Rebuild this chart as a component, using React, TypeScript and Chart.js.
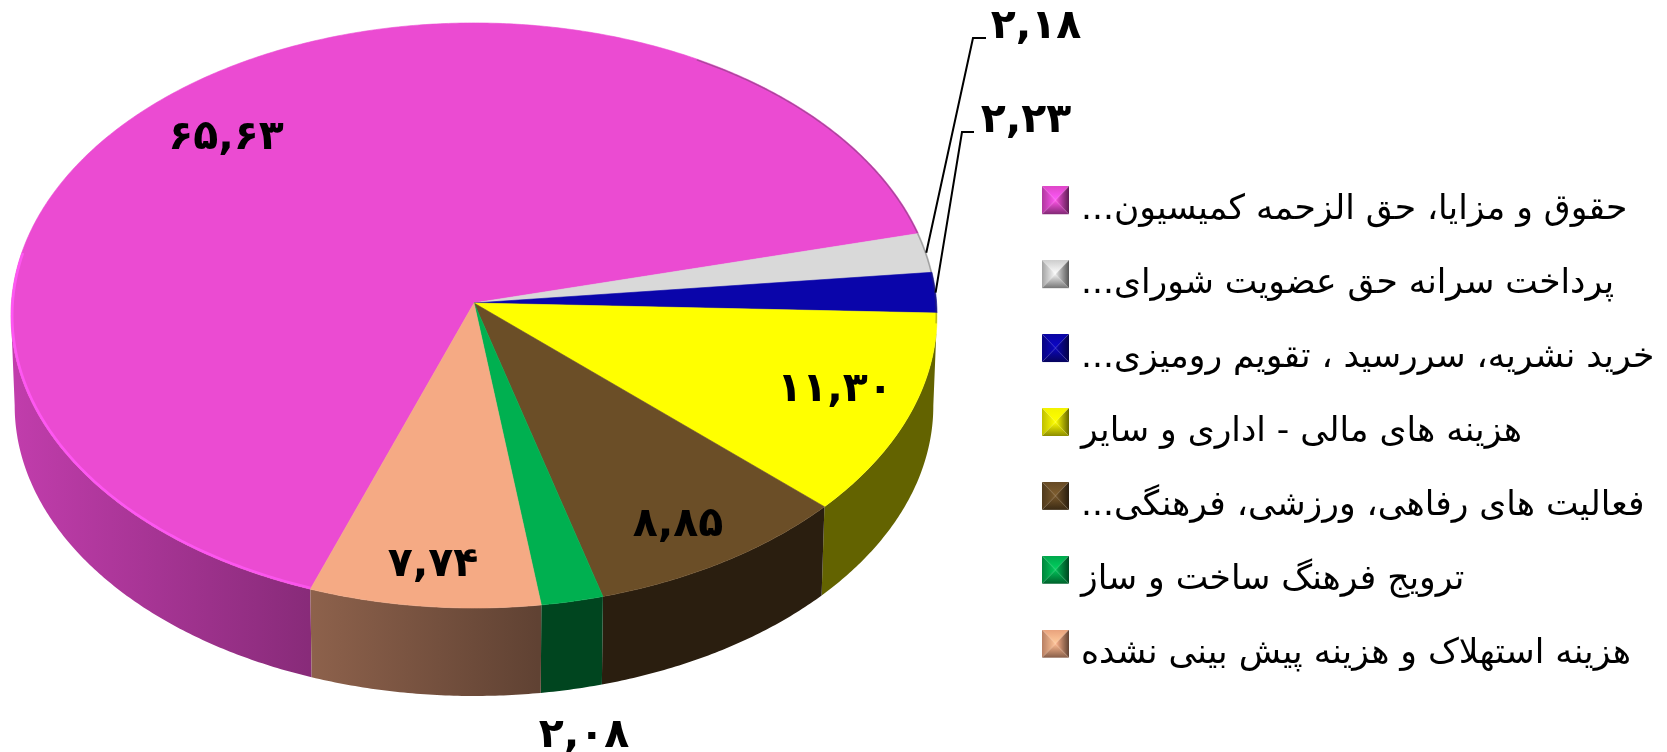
import React, { useEffect, useRef } from "react";
import { Chart, registerables } from "chart.js";

Chart.register(...registerables);

const categories = [
  "حقوق و مزایا، حق الزحمه کمیسیون...\u200F",
  "پرداخت سرانه حق عضویت شورای...\u200F",
  "خرید نشریه، سررسید ، تقویم رومیزی...\u200F",
  "هزینه های مالی - اداری و سایر",
  "فعالیت های رفاهی، ورزشی، فرهنگی...\u200F",
  "ترویج فرهنگ ساخت و ساز",
  "هزینه استهلاک و هزینه پیش بینی نشده",
];
const shares = [65.63, 2.18, 2.23, 11.3, 8.85, 2.08, 7.74];
const valueLabels = ["۶۵,۶۳", "۲,۱۸", "۲,۲۳", "۱۱,۳۰", "۸,۸۵", "۲,۰۸", "۷,۷۴"];
const sliceColors: number[][] = [
  [235, 75, 210],
  [217, 217, 217],
  [10, 5, 170],
  [255, 255, 0],
  [107, 78, 39],
  [0, 176, 80],
  [245, 170, 132],
];

// Layout of the value labels (centres) and leader-line elbows.
const labelCentres: number[][] = [
  [226, 138],
  [1036, 27],
  [1026, 121],
  [835, 390],
  [678, 525],
  [584, 736],
  [433, 565],
];
const leaderElbows: Record<number, number[][]> = {
  1: [[973, 38], [986, 38]],
  2: [[962, 132], [974, 132]],
};

const ROTATION = 199.85;
const STRETCH_X = 462.6 / 303;
const STRETCH_Y = 292 / 303;
const PERSPECTIVE = 0.0427;
const DROP = 90.4 / 303;
const BASE_SCALE = 0.992;
const LEGEND_X = 1047.25;
const LEGEND_Y = 193;
const LEGEND_FONT = 34.5;
const LEGEND_PAD = 39.4;
const LEGEND_BOX = 16.5;
const MARKER_RAISE = 10;
const DEG = Math.PI / 180;

const rgb = (c: number[], f = 1, a = 1) =>
  `rgba(${c.map((v) => Math.min(255, Math.round(v * f))).join(",")},${a})`;

function project(arc: any, t: number, bottom = false) {
  const u = Math.cos(t);
  const v = Math.sin(t);
  const w = 1 - PERSPECTIVE * v;
  const R = arc.outerRadius;
  const s = bottom ? BASE_SCALE : 1;
  return {
    x: arc.x + (s * R * STRETCH_X * u) / w,
    y: arc.y + (bottom ? DROP * R : 0) + (s * R * STRETCH_Y * v) / w,
  };
}

function rimPath(ctx: CanvasRenderingContext2D, arc: any, a: number, b: number, bottom = false, move = false) {
  const n = Math.max(2, Math.ceil(Math.abs(b - a) / (0.5 * DEG)));
  for (let i = 0; i <= n; i++) {
    const p = project(arc, a + ((b - a) * i) / n, bottom);
    if (i === 0 && move) ctx.moveTo(p.x, p.y);
    else ctx.lineTo(p.x, p.y);
  }
}

const FRONT_START = 2.4 * DEG;
const FRONT_END = 177.6 * DEG;

function frontRanges(start: number, end: number) {
  const out: number[][] = [];
  for (const shift of [0, 2 * Math.PI]) {
    const a = Math.max(start, FRONT_START + shift);
    const b = Math.min(end, FRONT_END + shift);
    if (b > a) out.push([a, b]);
  }
  return out;
}

function facePath(ctx: CanvasRenderingContext2D, arc: any) {
  ctx.beginPath();
  ctx.moveTo(arc.x, arc.y);
  rimPath(ctx, arc, arc.startAngle, arc.endAngle);
  ctx.closePath();
}

const pie3d = {
  id: "pie3d",
  afterLayout(chart: any) {
    const l = chart.legend;
    const w = l.right - l.left;
    const h = l.bottom - l.top;
    l.left = LEGEND_X - l.options.labels.padding;
    l.right = l.left + w;
    l.top = LEGEND_Y - l.options.labels.padding;
    l.bottom = l.top + h;
  },
  beforeDatasetDraw(chart: any, args: any) {
    const ctx: CanvasRenderingContext2D = chart.ctx;
    const arcs = args.meta.data;
    ctx.save();
    arcs.forEach((arc: any, i: number) => {
      const c = sliceColors[i];
      for (const [a, b] of frontRanges(arc.startAngle, arc.endAngle)) {
        const g = ctx.createLinearGradient(arc.x - 462, 0, arc.x + 64, 0);
        g.addColorStop(0, rgb(c, 0.82));
        g.addColorStop(1, rgb(c, 0.39));
        ctx.fillStyle = g;
        ctx.beginPath();
        rimPath(ctx, arc, a, b, false, true);
        rimPath(ctx, arc, b, a, true);
        ctx.closePath();
        ctx.fill();
      }
    });
    arcs.forEach((arc: any, i: number) => {
      const color = rgb(sliceColors[i]);
      ctx.fillStyle = color;
      ctx.strokeStyle = color;
      ctx.lineWidth = 0.6;
      facePath(ctx, arc);
      ctx.fill();
      ctx.stroke();
    });
    arcs.forEach((arc: any, i: number) => {
      const c = sliceColors[i];
      ctx.save();
      facePath(ctx, arc);
      ctx.clip();
      const g = ctx.createLinearGradient(arc.x - 300, 0, arc.x + 90, 0);
      g.addColorStop(0, rgb(c, 1.16, 0.95));
      g.addColorStop(0.7, rgb(c, 1.16, 0.6));
      g.addColorStop(1, rgb(c, 1.16, 0));
      ctx.strokeStyle = g;
      ctx.lineWidth = 5;
      const a = Math.max(arc.startAngle, 82 * DEG);
      const b = Math.min(arc.endAngle, 190 * DEG);
      if (b > a) {
        ctx.beginPath();
        rimPath(ctx, arc, a, b, false, true);
        ctx.stroke();
      }
      const da = Math.max(arc.startAngle, 300 * DEG);
      const db = Math.min(arc.endAngle, 364 * DEG);
      if (db > da) {
        ctx.strokeStyle = "rgba(60,60,60,0.35)";
        ctx.lineWidth = 3;
        ctx.beginPath();
        rimPath(ctx, arc, da, db, false, true);
        ctx.stroke();
      }
      ctx.restore();
    });
    ctx.restore();
    return false;
  },
  afterDatasetsDraw(chart: any) {
    const ctx: CanvasRenderingContext2D = chart.ctx;
    const arcs = chart.getDatasetMeta(0).data;
    ctx.save();
    ctx.direction = "ltr";
    ctx.strokeStyle = "#000";
    ctx.lineWidth = 2;
    Object.keys(leaderElbows).forEach((k) => {
      const arc = arcs[+k];
      const p = project(arc, (arc.startAngle + arc.endAngle) / 2);
      ctx.beginPath();
      ctx.moveTo(p.x, p.y);
      leaderElbows[+k].forEach(([x, y]) => ctx.lineTo(x, y));
      ctx.stroke();
    });
    ctx.fillStyle = "#000";
    ctx.font = 'bold 41px "DejaVu Sans"';
    (ctx as any).letterSpacing = "1.5px";
    ctx.textAlign = "center";
    ctx.textBaseline = "middle";
    valueLabels.forEach((t, i) => ctx.fillText(t, labelCentres[i][0], labelCentres[i][1]));
    ctx.restore();
  },
};

function bevelMarker(c: number[]) {
  const W = 27;
  const H = 28;
  const cv = document.createElement("canvas");
  cv.width = W;
  cv.height = H + 2 * MARKER_RAISE;
  const x = cv.getContext("2d")!;
  const cx = W / 2;
  const cy = H / 2;
  const tri = (pts: number[][], from: number[], edge: number, centre: number) => {
    const g = x.createLinearGradient(from[0], from[1], cx, cy);
    g.addColorStop(0, rgb(c, edge));
    g.addColorStop(1, rgb(c, centre));
    x.fillStyle = g;
    x.beginPath();
    x.moveTo(pts[0][0], pts[0][1]);
    pts.slice(1).forEach((p) => x.lineTo(p[0], p[1]));
    x.closePath();
    x.fill();
  };
  tri([[0, 0], [W, 0], [cx, cy]], [cx, 0], 0.95, 1.2);
  tri([[0, 0], [0, H], [cx, cy]], [0, cy], 0.75, 1.15);
  tri([[W, 0], [W, H], [cx, cy]], [W, cy], 0.4, 1.05);
  tri([[0, H], [W, H], [cx, cy]], [cx, H], 0.55, 1.1);
  return cv;
}

export default function App() {
  const ref = useRef<HTMLCanvasElement>(null);
  useEffect(() => {
    document.body.style.margin = "0";
    const chart = new Chart(ref.current!, {
      type: "pie",
      data: {
        labels: categories,
        datasets: [
          {
            data: shares,
            backgroundColor: sliceColors.map((c) => rgb(c)),
            borderWidth: 0,
          },
        ],
      },
      options: {
        responsive: false,
        animation: false,
        events: [],
        rotation: ROTATION,
        layout: { padding: { left: 0, top: 0, right: 719, bottom: 146 } },
        plugins: {
          tooltip: { enabled: false },
          title: { display: false },
          legend: {
            position: "chartArea",
            align: "start",
            textDirection: "rtl",
            labels: {
              color: "#000",
              font: { family: '"DejaVu Sans"', size: LEGEND_FONT, lineHeight: 1 },
              padding: LEGEND_PAD,
              boxWidth: LEGEND_BOX,
              boxHeight: LEGEND_BOX,
              usePointStyle: true,
              generateLabels: () =>
                categories.map((text, i) => ({
                  text,
                  fillStyle: rgb(sliceColors[i]),
                  strokeStyle: rgb(sliceColors[i]),
                  lineWidth: 0,
                  hidden: false,
                  index: i,
                  datasetIndex: 0,
                  pointStyle: bevelMarker(sliceColors[i]),
                })),
            },
          },
        },
      } as any,
      plugins: [pie3d as any],
    });
    return () => chart.destroy();
  }, []);
  return (
    <div style={{ position: "absolute", left: 0, top: 0, width: 1667, height: 752, background: "#fff" }}>
      <canvas ref={ref} width={1667} height={752} style={{ display: "block" }} />
    </div>
  );
}
